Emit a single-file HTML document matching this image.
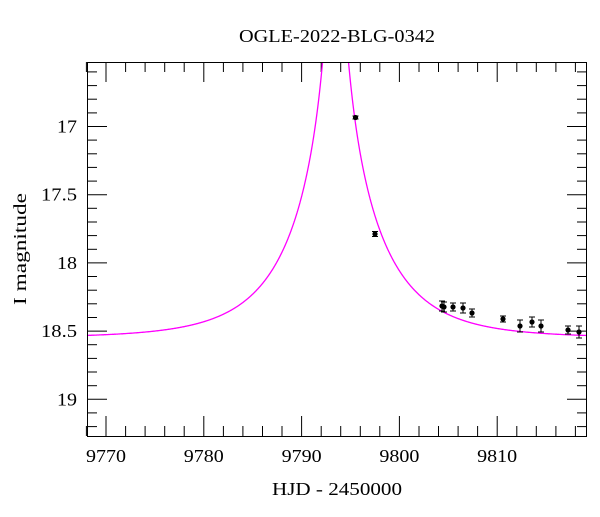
<!DOCTYPE html>
<html><head><meta charset="utf-8"><style>
html,body{margin:0;padding:0;background:#fff;}
svg text{font-family:"Liberation Serif",serif;fill:#000;}
</style></head><body>
<svg id="s" width="600" height="512" viewBox="0 0 600 512" xmlns="http://www.w3.org/2000/svg">
<defs><clipPath id="cp"><rect x="87" y="62" width="500" height="374"/></clipPath></defs>
<rect width="600" height="512" fill="#fff"/>
<text x="337" y="42" font-size="18" text-anchor="middle" textLength="196" lengthAdjust="spacingAndGlyphs">OGLE-2022-BLG-0342</text>
<text x="337" y="495" font-size="18" text-anchor="middle" textLength="130" lengthAdjust="spacingAndGlyphs">HJD - 2450000</text>
<text transform="translate(26,249) rotate(-90)" font-size="18" text-anchor="middle" textLength="112" lengthAdjust="spacingAndGlyphs">I magnitude</text>
<g id="ticks" stroke="#000" stroke-width="1"></g>
<g id="lab" font-size="18"></g>
<path id="curve" fill="none" stroke="#f0f" stroke-width="1.3" clip-path="url(#cp)"/>
<g id="pts"></g>
<rect x="87.5" y="62.5" width="499" height="374" fill="none" stroke="#000" stroke-width="1"/>
</svg>
<script>
var L=87,R=587,T=62,B=436;
function X(t){return 106+(t-9770)*9.78;}
function Y(m){return 126.5+(m-17)*136.4;}
var g=document.getElementById('ticks'),lab=document.getElementById('lab'),h='',lh='';
for(var t=9768;t<=9819;t+=2){var x=X(t).toFixed(1),mj=(t%10==0);var len=mj?20:10;
h+='<line x1="'+x+'" y1="'+B+'" x2="'+x+'" y2="'+(B-len)+'"/><line x1="'+x+'" y1="'+T+'" x2="'+x+'" y2="'+(T+len)+'"/>';
if(mj)lh+='<text x="'+x+'" y="'+(B+26)+'" text-anchor="middle" textLength="40" lengthAdjust="spacingAndGlyphs">'+t+'</text>';}
for(var i=166;i<=192;i++){var m=i/10,y=Y(m).toFixed(1),mj=(i%5==0),len=mj?20:10;
h+='<line x1="'+L+'" y1="'+y+'" x2="'+(L+len)+'" y2="'+y+'"/><line x1="'+R+'" y1="'+y+'" x2="'+(R-len)+'" y2="'+y+'"/>';
if(mj){var s=(i%10==0)?String(i/10):m.toFixed(1);var tl=s.length==2?20:36;lh+='<text x="'+(L-10)+'" y="'+(+y+6)+'" text-anchor="end" textLength="'+tl+'" lengthAdjust="spacingAndGlyphs">'+s+'</text>';}}
g.innerHTML=h;lab.innerHTML=lh;
var t0=9793.47,tE=8.5,u0=0.01,base=18.55,d='';
for(var px=L;px<=R;px+=0.25){var t=9770+(px-106)/9.78;var tau=(t-t0)/tE;var u=Math.sqrt(u0*u0+tau*tau);
var A=(u*u+2)/(u*Math.sqrt(u*u+4));var m=base-2.5*Math.log10(A);var y=Y(m);if(y<T-50)y=T-50;
d+=(d?'L':'M')+px.toFixed(2)+' '+y.toFixed(1);}
var c=document.getElementById('curve');c.setAttribute('d',d);
var pts=[[355.5,117.5,1.5],[375,234,2.5],[442,306,5],[444,307,5],[453,307,4],[463,308,5],[472,313,4],[503,319,3],[520,326,6],[532,322,5],[541,326,6],[568,330,4],[579,332,6]],p='';
pts.forEach(function(q){p+='<line x1="'+q[0]+'" y1="'+(q[1]-q[2])+'" x2="'+q[0]+'" y2="'+(q[1]+q[2])+'" stroke="#000"/>';
p+='<line x1="'+(q[0]-3)+'" y1="'+(q[1]-q[2])+'" x2="'+(q[0]+3)+'" y2="'+(q[1]-q[2])+'" stroke="#000"/><line x1="'+(q[0]-3)+'" y1="'+(q[1]+q[2])+'" x2="'+(q[0]+3)+'" y2="'+(q[1]+q[2])+'" stroke="#000"/>';
p+='<circle cx="'+q[0]+'" cy="'+q[1]+'" r="2.6" fill="#000"/>';});
document.getElementById('pts').innerHTML=p;
</script>
</body></html>
